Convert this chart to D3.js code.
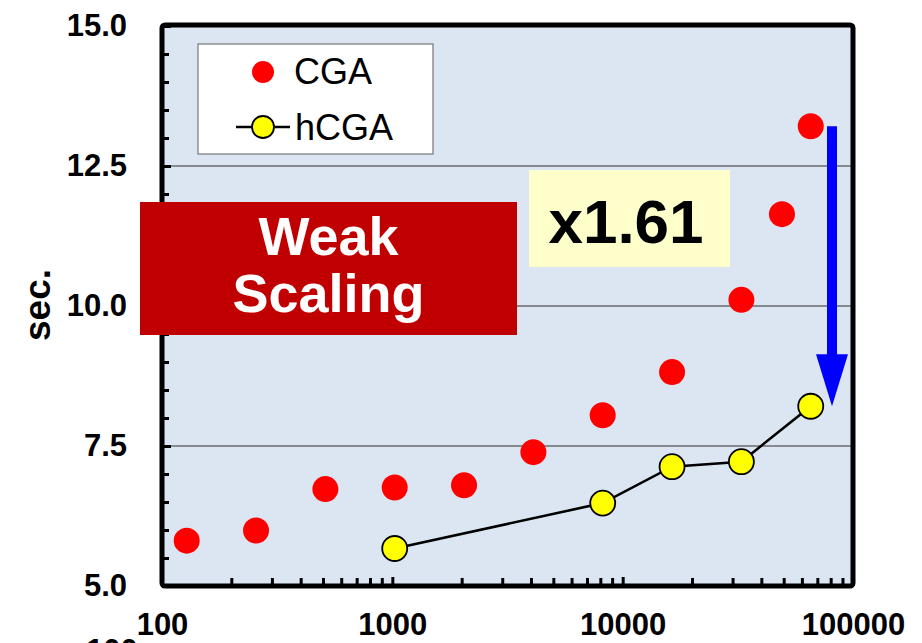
<!DOCTYPE html>
<html>
<head>
<meta charset="utf-8">
<script src="https://cdn.jsdelivr.net/npm/d3@7"></script>
<style>
  html, body { margin: 0; padding: 0; background: #ffffff; }
  svg { display: block; font-family: Arial, "Liberation Sans", sans-serif; }
</style>
</head>
<body>
<svg id="chart" width="922" height="643"></svg>
<script>
// Number of processes (x) and elapsed time in seconds (y)
const cgaProcs  = [128, 256, 512, 1024, 2048, 4096, 8192, 16384, 32768, 49152, 65536];
const cgaTime   = [5.81, 5.99, 6.73, 6.76, 6.80, 7.39, 8.05, 8.82, 10.11, 11.64, 13.21];
const hcgaProcs = [1024, 8192, 16384, 32768, 65536];
const hcgaTime  = [5.67, 6.48, 7.13, 7.22, 8.21];

const xMajorTicks = [100, 1000, 10000, 100000];
const xMinorTicks = [200, 300, 400, 500, 600, 700, 800, 900,
                     2000, 3000, 4000, 5000, 6000, 7000, 8000, 9000,
                     20000, 30000, 40000, 50000, 60000, 70000, 80000, 90000];
const yMajorTicks = [5.0, 7.5, 10.0, 12.5, 15.0];
const yMinorTicks = [5.5, 6.0, 6.5, 7.0, 8.0, 8.5, 9.0, 9.5, 10.5, 11.0, 11.5, 12.0, 13.0, 13.5, 14.0, 14.5];
const yGridLines  = [7.5, 10.0, 12.5];

const legendNames = ["CGA", "hCGA"];
const speedupText = "x1.61";
const bannerLines = ["Weak", "Scaling"];
const yTitle = "sec.";

const svg = d3.select("#chart");
const plotL = 162, plotR = 853, plotT = 26, plotB = 586;

const x = d3.scaleLog().domain([100, 100000]).range([plotL, plotR]);
const y = d3.scaleLinear().domain([5, 15]).range([plotB, plotT]);

// plot background
svg.append("rect")
  .attr("x", plotL).attr("y", plotT - 1)
  .attr("width", plotR - plotL).attr("height", plotB - plotT + 1)
  .attr("fill", "#DCE6F2");

// horizontal gridlines
svg.append("g").selectAll("line").data(yGridLines).join("line")
  .attr("x1", plotL).attr("x2", plotR)
  .attr("y1", d => y(d)).attr("y2", d => y(d))
  .attr("stroke", "#6b6b6b").attr("stroke-width", 1.4);

// x axis: minor ticks inside the frame
svg.append("g").attr("transform", `translate(0,${plotB})`)
  .call(d3.axisBottom(x).tickValues(xMinorTicks).tickSize(-8).tickFormat(""))
  .call(g => g.select(".domain").remove())
  .call(g => g.selectAll("line").attr("stroke", "#000").attr("stroke-width", 3));

// x axis: major ticks with labels
svg.append("g").attr("transform", `translate(0,${plotB})`)
  .call(d3.axisBottom(x).tickValues(xMajorTicks).tickSize(-9).tickPadding(27).tickFormat(d3.format("d")))
  .call(g => g.select(".domain").remove())
  .call(g => g.selectAll("line").attr("stroke", "#000").attr("stroke-width", 3))
  .call(g => g.selectAll("text")
    .attr("fill", "#000").attr("font-size", 31).attr("font-weight", "bold")
    .attr("font-family", "Arial, 'Liberation Sans', sans-serif"));

// stray second "100" label sitting below the first one
svg.append("text")
  .attr("x", x(100) - 50).attr("y", 661)
  .attr("text-anchor", "middle")
  .attr("font-size", 31).attr("font-weight", "bold").attr("fill", "#000")
  .text(d3.format("d")(xMajorTicks[0]));

// y axis: minor ticks
svg.append("g").attr("transform", `translate(${plotL},0)`)
  .call(d3.axisLeft(y).tickValues(yMinorTicks).tickSize(-7).tickFormat(""))
  .call(g => g.select(".domain").remove())
  .call(g => g.selectAll("line").attr("stroke", "#000").attr("stroke-width", 3));

// y axis: major ticks with labels
svg.append("g").attr("transform", `translate(${plotL},0)`)
  .call(d3.axisLeft(y).tickValues(yMajorTicks).tickSize(-9).tickPadding(35).tickFormat(d3.format(".1f")))
  .call(g => g.select(".domain").remove())
  .call(g => g.selectAll("line").attr("stroke", "#000").attr("stroke-width", 3))
  .call(g => g.selectAll("text")
    .attr("fill", "#000").attr("font-size", 31).attr("font-weight", "bold")
    .attr("font-family", "Arial, 'Liberation Sans', sans-serif"));

// y axis title
svg.append("text")
  .attr("transform", "translate(50,305) rotate(-90)")
  .attr("text-anchor", "middle")
  .attr("font-size", 37).attr("font-weight", "bold").attr("fill", "#000")
  .text(yTitle);

// plot frame
svg.append("rect")
  .attr("x", plotL).attr("y", plotT - 1)
  .attr("width", plotR - plotL).attr("height", plotB - plotT + 1)
  .attr("rx", 3)
  .attr("fill", "none").attr("stroke", "#000").attr("stroke-width", 5);

// legend
const lg = svg.append("g");
lg.append("rect").attr("x", 198).attr("y", 44).attr("width", 235).attr("height", 110)
  .attr("fill", "#fff").attr("stroke", "#777").attr("stroke-width", 1.2);
lg.append("circle").attr("cx", 263).attr("cy", 72).attr("r", 11).attr("fill", "#FF0000");
lg.append("text").attr("x", 294).attr("y", 84).attr("font-size", 36).attr("fill", "#000")
  .text(legendNames[0]);
lg.append("line").attr("x1", 236).attr("x2", 290).attr("y1", 127).attr("y2", 127)
  .attr("stroke", "#000").attr("stroke-width", 2.5);
lg.append("circle").attr("cx", 263).attr("cy", 127).attr("r", 11)
  .attr("fill", "#FFFF00").attr("stroke", "#000").attr("stroke-width", 1.8);
lg.append("text").attr("x", 295).attr("y", 140).attr("font-size", 36).attr("fill", "#000")
  .text(legendNames[1]);

// "Weak Scaling" banner
svg.append("rect").attr("x", 140).attr("y", 202).attr("width", 377).attr("height", 133)
  .attr("fill", "#C00000");
svg.append("g").selectAll("text").data(bannerLines).join("text")
  .attr("x", 328.5).attr("y", (d, i) => 255 + i * 57)
  .attr("text-anchor", "middle")
  .attr("font-size", 54).attr("font-weight", "bold").attr("fill", "#fff")
  .text(d => d);

// speed-up label
svg.append("rect").attr("x", 529).attr("y", 170).attr("width", 201).attr("height", 97)
  .attr("fill", "#FFFFCC");
svg.append("text").attr("x", 626).attr("y", 243).attr("text-anchor", "middle")
  .attr("font-size", 62).attr("font-weight", "bold").attr("fill", "#000")
  .text(speedupText);

// hCGA line
const hcga = hcgaProcs.map((p, i) => [p, hcgaTime[i]]);
svg.append("path").datum(hcga)
  .attr("d", d3.line().x(d => x(d[0])).y(d => y(d[1])))
  .attr("fill", "none").attr("stroke", "#000").attr("stroke-width", 2.6);

// CGA points
svg.append("g").selectAll("circle").data(cgaProcs.map((p, i) => [p, cgaTime[i]])).join("circle")
  .attr("cx", d => x(d[0])).attr("cy", d => y(d[1])).attr("r", 13)
  .attr("fill", "#FF0000");

// hCGA points
svg.append("g").selectAll("circle").data(hcga).join("circle")
  .attr("cx", d => x(d[0])).attr("cy", d => y(d[1])).attr("r", 12.5)
  .attr("fill", "#FFFF00").attr("stroke", "#000").attr("stroke-width", 1.8);

// blue arrow from the last CGA point down to the last hCGA point
const ax = 832;
const aTop = y(cgaTime[cgaTime.length - 1]);
const aTip = y(hcgaTime[hcgaTime.length - 1]);
svg.append("rect").attr("x", ax - 5).attr("y", aTop).attr("width", 10).attr("height", aTip - 50 - aTop + 2)
  .attr("fill", "#0000FF");
svg.append("path")
  .attr("d", `M${ax - 16},${aTip - 52} L${ax + 16},${aTip - 52} L${ax},${aTip} Z`)
  .attr("fill", "#0000FF");
</script>
</body>
</html>
